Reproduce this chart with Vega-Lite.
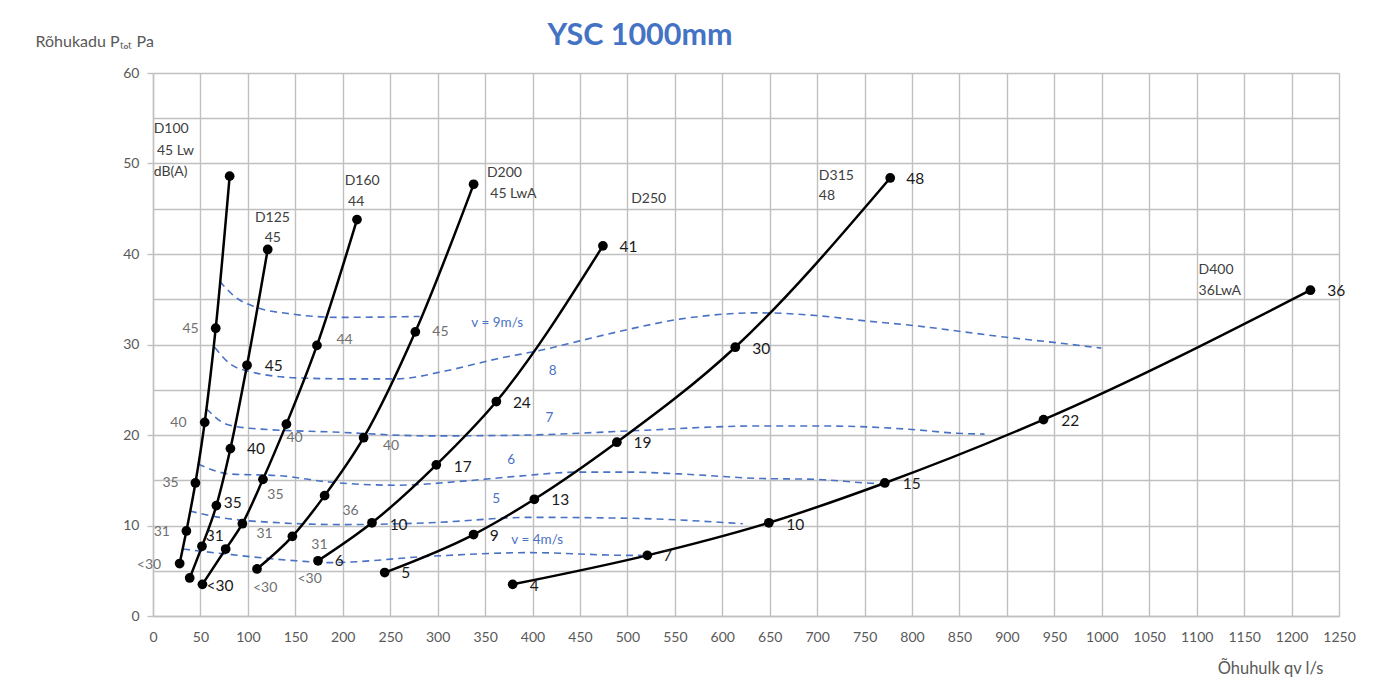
{
  "$schema": "https://vega.github.io/schema/vega-lite/v6.json",
  "width": 1186,
  "height": 543,
  "autosize": {"type": "none"},
  "padding": {"left": 153, "top": 73, "right": 48, "bottom": 66},
  "background": "white",
  "config": {"view": {"stroke": null}, "font": "Lato"},
  "title": {"text": "YSC 1000mm", "anchor": "middle", "dx": -106, "dy": 40, "offset": 22, "fontSize": 30.5, "fontWeight": "bold", "color": "#4472C4", "font": "Lato"},
  "datasets": {
    "curves": [
      {"d": "D100", "q": 28.1, "p": 5.8}, {"d": "D100", "q": 35.2, "p": 9.4}, {"d": "D100", "q": 44.7, "p": 14.7}, {"d": "D100", "q": 54.5, "p": 21.4}, {"d": "D100", "q": 66.1, "p": 31.8}, {"d": "D100", "q": 80.8, "p": 48.6},
      {"d": "D125", "q": 38.7, "p": 4.2}, {"d": "D125", "q": 51.6, "p": 7.7}, {"d": "D125", "q": 66.8, "p": 12.2}, {"d": "D125", "q": 81.6, "p": 18.5}, {"d": "D125", "q": 99.1, "p": 27.7}, {"d": "D125", "q": 120.9, "p": 40.5},
      {"d": "D160", "q": 52.1, "p": 3.5}, {"d": "D160", "q": 76.6, "p": 7.4}, {"d": "D160", "q": 94.2, "p": 10.2}, {"d": "D160", "q": 115.9, "p": 15.1}, {"d": "D160", "q": 140.6, "p": 21.2}, {"d": "D160", "q": 172.8, "p": 29.9}, {"d": "D160", "q": 215, "p": 43.8},
      {"d": "D200", "q": 109.6, "p": 5.2}, {"d": "D200", "q": 146.9, "p": 8.8}, {"d": "D200", "q": 180.9, "p": 13.3}, {"d": "D200", "q": 222, "p": 19.7}, {"d": "D200", "q": 276.5, "p": 31.4}, {"d": "D200", "q": 337.9, "p": 47.7},
      {"d": "D250", "q": 173.9, "p": 6.1}, {"d": "D250", "q": 230.8, "p": 10.3}, {"d": "D250", "q": 298.6, "p": 16.7}, {"d": "D250", "q": 361.9, "p": 23.7}, {"d": "D250", "q": 474.2, "p": 40.9},
      {"d": "D315", "q": 244.2, "p": 4.8}, {"d": "D315", "q": 337.9, "p": 9.0}, {"d": "D315", "q": 401.9, "p": 12.9}, {"d": "D315", "q": 488.9, "p": 19.2}, {"d": "D315", "q": 613.7, "p": 29.7}, {"d": "D315", "q": 777, "p": 48.4},
      {"d": "D400", "q": 379.1, "p": 3.5}, {"d": "D400", "q": 521, "p": 6.7}, {"d": "D400", "q": 649.1, "p": 10.3}, {"d": "D400", "q": 771.3, "p": 14.7}, {"d": "D400", "q": 938.6, "p": 21.7}, {"d": "D400", "q": 1219.9, "p": 36.0}
    ],
    "vel": [
      {"v": "9", "q": 70.3, "p": 37.0}, {"v": "9", "q": 86.1, "p": 35.3}, {"v": "9", "q": 109, "p": 34.1}, {"v": "9", "q": 144, "p": 33.4}, {"v": "9", "q": 196.7, "p": 33.0}, {"v": "9", "q": 281, "p": 33.1},
      {"v": "8", "q": 65, "p": 29.7}, {"v": "8", "q": 80.8, "p": 27.9}, {"v": "8", "q": 98.4, "p": 27.1}, {"v": "8", "q": 154.6, "p": 26.3}, {"v": "8", "q": 207.3, "p": 26.2}, {"v": "8", "q": 256.5, "p": 26.2}, {"v": "8", "q": 309.2, "p": 27.1}, {"v": "8", "q": 361.9, "p": 28.4}, {"v": "8", "q": 414.5, "p": 29.5}, {"v": "8", "q": 449.8, "p": 30.4}, {"v": "8", "q": 502.3, "p": 31.7}, {"v": "8", "q": 555, "p": 32.8}, {"v": "8", "q": 639.2, "p": 33.5}, {"v": "8", "q": 699, "p": 33.2}, {"v": "8", "q": 751.7, "p": 32.6}, {"v": "8", "q": 800.8, "p": 32.1}, {"v": "8", "q": 899.3, "p": 30.8}, {"v": "8", "q": 952, "p": 30.2}, {"v": "8", "q": 999.4, "p": 29.6},
      {"v": "7", "q": 56.3, "p": 22.9}, {"v": "7", "q": 77.3, "p": 21.2}, {"v": "7", "q": 101.9, "p": 20.75}, {"v": "7", "q": 196.7, "p": 20.3}, {"v": "7", "q": 291.8, "p": 19.9}, {"v": "7", "q": 397, "p": 20.0}, {"v": "7", "q": 502.3, "p": 20.45}, {"v": "7", "q": 639.2, "p": 21.0}, {"v": "7", "q": 699, "p": 21.0}, {"v": "7", "q": 751.7, "p": 20.9}, {"v": "7", "q": 800.8, "p": 20.6}, {"v": "7", "q": 846.6, "p": 20.2}, {"v": "7", "q": 876.4, "p": 20.1},
      {"v": "6", "q": 47.4, "p": 16.8}, {"v": "6", "q": 80.8, "p": 15.7}, {"v": "6", "q": 133.5, "p": 15.5}, {"v": "6", "q": 186, "p": 14.8}, {"v": "6", "q": 256.5, "p": 14.45}, {"v": "6", "q": 326.7, "p": 14.9}, {"v": "6", "q": 379.3, "p": 15.4}, {"v": "6", "q": 449.6, "p": 15.9}, {"v": "6", "q": 502.3, "p": 15.9}, {"v": "6", "q": 555, "p": 15.7}, {"v": "6", "q": 639.2, "p": 15.2}, {"v": "6", "q": 699, "p": 15.1}, {"v": "6", "q": 751.7, "p": 14.7}, {"v": "6", "q": 771, "p": 14.6},
      {"v": "5", "q": 38.7, "p": 11.6}, {"v": "5", "q": 70.3, "p": 10.9}, {"v": "5", "q": 133.5, "p": 10.3}, {"v": "5", "q": 196.7, "p": 10.1}, {"v": "5", "q": 291.8, "p": 10.3}, {"v": "5", "q": 397, "p": 10.9}, {"v": "5", "q": 502.3, "p": 10.8}, {"v": "5", "q": 621.7, "p": 10.2},
      {"v": "4", "q": 31.6, "p": 7.4}, {"v": "4", "q": 80.8, "p": 6.8}, {"v": "4", "q": 151.1, "p": 6.1}, {"v": "4", "q": 186, "p": 5.9}, {"v": "4", "q": 291.8, "p": 6.6}, {"v": "4", "q": 397, "p": 7.0}, {"v": "4", "q": 502.3, "p": 6.7}, {"v": "4", "q": 515, "p": 6.7}
    ],
    "names": [
      {"t": "D100", "q": 0.7, "p": 53.8}, {"t": "45 Lw", "q": 4.2, "p": 51.4}, {"t": "dB(A)", "q": 0.7, "p": 49.1},
      {"t": "D125", "q": 107.4, "p": 44.0}, {"t": "45", "q": 117.7, "p": 41.8},
      {"t": "D160", "q": 202, "p": 48.1}, {"t": "44", "q": 205.6, "p": 45.7},
      {"t": "D200", "q": 352, "p": 48.9}, {"t": "45 LwA", "q": 355.5, "p": 46.6},
      {"t": "D250", "q": 504, "p": 46.1},
      {"t": "D315", "q": 701.8, "p": 48.6}, {"t": "48", "q": 701.8, "p": 46.4},
      {"t": "D400", "q": 1102, "p": 38.2}, {"t": "36LwA", "q": 1102, "p": 35.9}
    ],
    "greylabels": [
      {"t": "45", "q": 31, "p": 31.7}, {"t": "40", "q": 18.3, "p": 21.3}, {"t": "35", "q": 9.9, "p": 14.7}, {"t": "31", "q": 0.7, "p": 9.3}, {"t": "<30", "q": -17, "p": 5.6},
      {"t": "44", "q": 193.3, "p": 30.5}, {"t": "40", "q": 140.6, "p": 19.7}, {"t": "35", "q": 120.5, "p": 13.4}, {"t": "31", "q": 109, "p": 9.1}, {"t": "<30", "q": 105.4, "p": 3.1},
      {"t": "45", "q": 294.4, "p": 31.4}, {"t": "40", "q": 242.4, "p": 18.8}, {"t": "36", "q": 199.6, "p": 11.6}, {"t": "31", "q": 166.9, "p": 7.9}, {"t": "<30", "q": 152.2, "p": 4.1}
    ],
    "darklabels": [
      {"t": "45", "q": 117.7, "p": 27.6}, {"t": "40", "q": 99, "p": 18.5}, {"t": "35", "q": 74.5, "p": 12.5}, {"t": "31", "q": 55.5, "p": 8.8}, {"t": "<30", "q": 56.3, "p": 3.3},
      {"t": "41", "q": 491.8, "p": 40.8}, {"t": "24", "q": 379.3, "p": 23.5}, {"t": "17", "q": 316.9, "p": 16.5}, {"t": "10", "q": 249.4, "p": 10.1}, {"t": "6", "q": 191.5, "p": 6.1},
      {"t": "48", "q": 793.9, "p": 48.3}, {"t": "30", "q": 631.6, "p": 29.5}, {"t": "19", "q": 506.5, "p": 19.1}, {"t": "13", "q": 419.8, "p": 12.8}, {"t": "9", "q": 354.8, "p": 8.8}, {"t": "5", "q": 261.7, "p": 4.7},
      {"t": "36", "q": 1237.5, "p": 35.9}, {"t": "22", "q": 957.2, "p": 21.6}, {"t": "15", "q": 790.3, "p": 14.6}, {"t": "10", "q": 667.4, "p": 10.1}, {"t": "7", "q": 537.4, "p": 6.6}, {"t": "4", "q": 397, "p": 3.3}
    ],
    "vlabels": [
      {"t": "v = 9m/s", "q": 335.5, "p": 32.4}, {"t": "8", "q": 417, "p": 27.1}, {"t": "7", "q": 413.8, "p": 21.9}, {"t": "6", "q": 373.4, "p": 17.2}, {"t": "5", "q": 357.6, "p": 12.9}, {"t": "v = 4m/s", "q": 377.7, "p": 8.4}
    ]
  },
  "encoding": {
    "x": {
      "field": "q", "type": "quantitative",
      "scale": {"domain": [0, 1250], "nice": false, "zero": false},
      "axis": {
        "values": [0, 50, 100, 150, 200, 250, 300, 350, 400, 450, 500, 550, 600, 650, 700, 750, 800, 850, 900, 950, 1000, 1050, 1100, 1150, 1200, 1250],
        "format": "d",
        "grid": true, "gridColor": "#c0c0c0", "gridWidth": 1.4,
        "domainColor": "#c0c0c0", "domainWidth": 1.4,
        "ticks": false, "labelPadding": 14, "labelFontSize": 14, "labelColor": "#595959",
        "labelFlush": false, "labelOverlap": false, "labelFont": "Lato",
        "title": "Õhuhulk qv l/s", "titleFont": "Lato", "titleFontSize": 16.5, "titleFontWeight": "normal", "titleColor": "#595959",
        "titleAlign": "right", "titleAnchor": null, "titleX": 1170, "titleY": 52, "titleBaseline": "middle"
      }
    },
    "y": {
      "field": "p", "type": "quantitative",
      "scale": {"domain": [0, 60], "nice": false},
      "axis": {
        "values": [0, 5, 10, 15, 20, 25, 30, 35, 40, 45, 50, 55, 60],
        "labelExpr": "datum.value % 10 === 0 ? datum.label : ''",
        "grid": true, "gridColor": "#c0c0c0", "gridWidth": 1.4,
        "domainColor": "#c0c0c0", "domainWidth": 1.4,
        "tickColor": {"condition": {"test": "datum.value % 10 === 0", "value": "#c0c0c0"}, "value": "transparent"},
        "tickSize": 6, "tickWidth": 1.4, "labelPadding": 8, "labelFontSize": 14, "labelColor": "#595959", "labelFont": "Lato",
        "title": "Rõhukadu Pₜₒₜ Pa", "titleFont": "Lato", "titleFontSize": 16, "titleFontWeight": "normal", "titleColor": "#595959",
        "titleAngle": 0, "titleAlign": "left", "titleBaseline": "middle", "titleAnchor": null, "titleX": -118, "titleY": -32
      }
    }
  },
  "layer": [
    {
      "data": {"name": "vel"},
      "mark": {"type": "line", "interpolate": "monotone", "strokeDash": [7, 5], "strokeWidth": 1.6, "color": "#4a72c4"},
      "encoding": {"detail": {"field": "v", "type": "nominal"}}
    },
    {
      "data": {"name": "curves"},
      "mark": {"type": "line", "interpolate": "monotone", "strokeWidth": 2.5, "color": "black"},
      "encoding": {"detail": {"field": "d", "type": "nominal"}}
    },
    {
      "data": {"name": "curves"},
      "mark": {"type": "circle", "size": 95, "color": "black", "opacity": 1}
    },
    {
      "data": {"name": "names"},
      "mark": {"type": "text", "align": "left", "baseline": "middle", "fontSize": 14, "color": "#404040", "font": "Lato"},
      "encoding": {"text": {"field": "t"}}
    },
    {
      "data": {"name": "greylabels"},
      "mark": {"type": "text", "align": "left", "baseline": "middle", "fontSize": 14, "color": "#707070", "font": "Lato"},
      "encoding": {"text": {"field": "t"}}
    },
    {
      "data": {"name": "darklabels"},
      "mark": {"type": "text", "align": "left", "baseline": "middle", "fontSize": 15.5, "color": "#1a1a1a", "font": "Lato"},
      "encoding": {"text": {"field": "t"}}
    },
    {
      "data": {"name": "vlabels"},
      "mark": {"type": "text", "align": "left", "baseline": "middle", "fontSize": 13.5, "color": "#4a72c4", "font": "Lato"},
      "encoding": {"text": {"field": "t"}}
    }
  ]
}
